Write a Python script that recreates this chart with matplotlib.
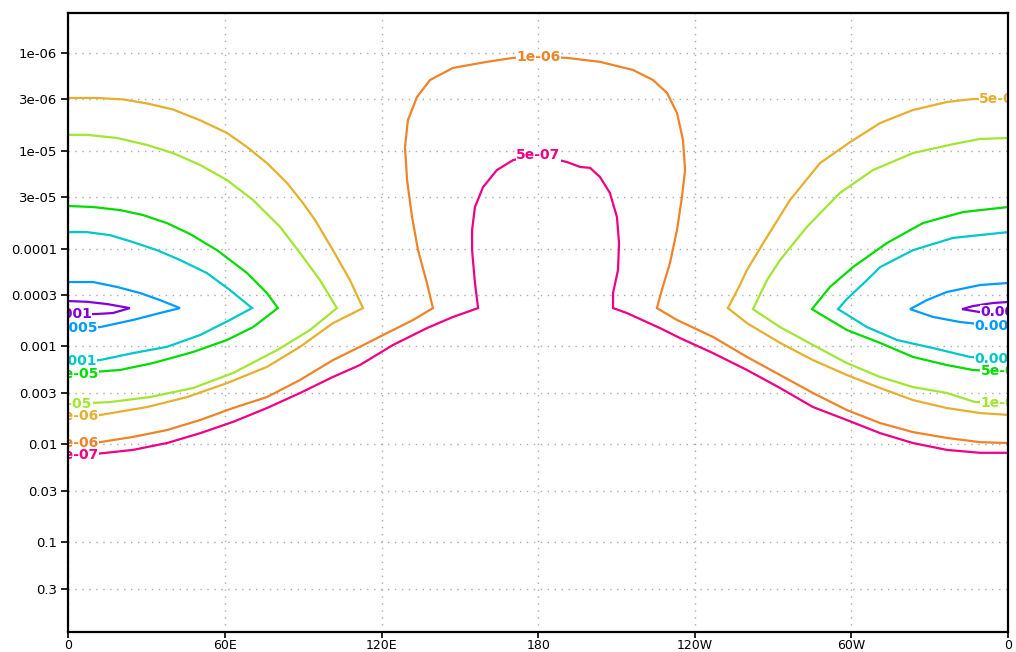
import numpy as np
import matplotlib.pyplot as plt

# contour lines: longitude (deg east) and pressure
lon_p001_l = [0, 7.2, 14.8, 23.6, 17.1, 11.0, 0]
p_p001_l = [3.44e-4, 3.5e-4, 3.69e-4, 4.06e-4, 4.56e-4, 4.66e-4, 4.77e-4]
lon_p001_r = [360, 354.3, 346.6, 342.4, 349.3, 360]
p_p001_r = [3.52e-4, 3.6e-4, 3.87e-4, 4.16e-4, 4.46e-4, 4.56e-4]

lon_p0005_l = [0, 9.5, 18.7, 27.5, 35.1, 42.8, 35.1, 24.8, 12.1, 0]
p_p0005_l = [2.2e-4, 2.2e-4, 2.47e-4, 2.85e-4, 3.36e-4, 4.06e-4, 4.56e-4, 5.37e-4, 6.35e-4, 6.6e-4]
lon_p0005_r = [360, 349.3, 336.6, 329.0, 322.5, 331.3, 341.6, 360]
p_p0005_r = [2.25e-4, 2.36e-4, 2.78e-4, 3.36e-4, 4.16e-4, 5.0e-4, 5.63e-4, 6.35e-4]

lon_p0001_l = [0, 7.2, 16.0, 24.8, 34.0, 42.8, 53.1, 61.9, 70.4,
               61.9, 50.5, 37.8, 24.8, 12.1, 0]
p_p0001_l = [6.8e-5, 6.8e-5, 7.3e-5, 8.6e-5, 1.04e-4, 1.31e-4, 1.78e-4, 2.65e-4, 4.06e-4,
             5.37e-4, 7.65e-4, 1.01e-3, 1.17e-3, 1.38e-3, 1.41e-3]
lon_p0001_r = [360, 338.9, 323.6, 311.0, 306.0, 298.3, 294.9,
               306.0, 317.5, 331.3, 345.4, 360]
p_p0001_r = [6.8e-5, 7.8e-5, 1.04e-4, 1.55e-4, 2.1e-4, 3.28e-4, 4.16e-4,
             6.35e-4, 8.6e-4, 1.04e-3, 1.28e-3, 1.35e-3]

lon_5e5_l = [0, 9.5, 19.8, 28.6, 37.8, 46.6, 57.0, 68.5, 76.1, 80.3,
             70.8, 60.8, 47.8, 32.4, 19.8, 0]
p_5e5_l = [3.68e-5, 3.77e-5, 4.05e-5, 4.55e-5, 5.5e-5, 7.1e-5, 1.04e-4, 1.78e-4, 2.85e-4, 4.06e-4,
           6.35e-4, 8.6e-4, 1.14e-3, 1.48e-3, 1.74e-3, 1.91e-3]
lon_5e5_r = [360, 342.8, 327.4, 313.6, 300.6, 291.8, 284.9,
             298.3, 311.0, 323.6, 336.6, 346.6, 360]
p_5e5_r = [3.77e-5, 4.24e-5, 5.5e-5, 8.8e-5, 1.55e-4, 2.47e-4, 4.16e-4,
           6.8e-4, 9.2e-4, 1.28e-3, 1.55e-3, 1.74e-3, 1.82e-3]

lon_1e5_l = [0, 7.2, 18.7, 30.2, 40.1, 50.5, 60.8, 70.8, 81.1, 88.8, 96.4, 102.9,
             92.6, 80.0, 63.1, 47.8, 31.3, 16.0, 0]
p_1e5_l = [6.9e-6, 6.9e-6, 7.44e-6, 8.76e-6, 1.06e-5, 1.4e-5, 2.0e-5, 3.2e-5, 6.0e-5, 1.11e-4, 2.1e-4, 4.06e-4,
           6.8e-4, 1.09e-3, 1.87e-3, 2.66e-3, 3.29e-3, 3.7e-3, 3.88e-3]
lon_1e5_r = [360, 349.3, 338.9, 323.6, 308.3, 295.6, 283.0, 272.7, 267.7, 262.3,
             272.7, 285.3, 298.3, 311.0, 323.6, 336.6, 347.4, 360]
p_1e5_r = [7.44e-6, 7.6e-6, 8.6e-6, 1.06e-5, 1.58e-5, 2.71e-5, 6.0e-5, 1.31e-4, 2.1e-4, 4.16e-4,
           6.35e-4, 9.67e-4, 1.48e-3, 2.05e-3, 2.6e-3, 2.99e-3, 3.7e-3, 3.78e-3]

lon_5e6_l = [0, 11.0, 21.0, 30.2, 40.1, 50.5, 60.8, 68.5, 76.1, 83.8, 89.9, 94.5, 101.4, 107.9, 112.9,
             101.4, 88.8, 76.1, 60.8, 45.5, 30.2, 12.1, 0]
p_5e6_l = [2.9e-6, 2.9e-6, 3.0e-6, 3.3e-6, 3.8e-6, 4.9e-6, 6.6e-6, 9.2e-6, 1.34e-5, 2.14e-5, 3.43e-5,
           5.1e-5, 1.04e-4, 2.1e-4, 4.06e-4,
           5.78e-4, 1.01e-3, 1.62e-3, 2.37e-3, 3.29e-3, 4.16e-3, 5.02e-3, 5.14e-3]
lon_5e6_r = [360, 346.6, 336.6, 323.6, 311.0, 299.5, 288.0, 276.5, 267.7, 260.0, 257.3, 252.7,
             260.0, 272.7, 285.3, 298.3, 311.0, 323.6, 336.6, 349.3, 360]
p_5e6_r = [2.97e-6, 2.97e-6, 3.19e-6, 3.85e-6, 5.23e-6, 8.2e-6, 1.34e-5, 3.2e-5, 7.6e-5, 1.66e-4, 2.36e-4, 4.06e-4,
           5.78e-4, 9.2e-4, 1.38e-3, 1.96e-3, 2.66e-3, 3.53e-3, 4.26e-3, 4.79e-3, 5.0e-3]

lon_1e6 = [0, 12.1, 24.8, 37.8, 50.5, 63.1, 76.1, 88.8, 101.4, 111.7, 124.4, 132.1, 139.7,
           137.4, 134.0, 131.7, 129.8, 129.0, 130.1, 133.6, 138.6, 147.4, 160.4, 170.4, 180,
           191.1, 203.7, 216.3, 224.0, 229.4, 233.2, 235.5, 236.3, 235.1, 233.2, 230.5, 227.4, 225.5,
           233.2, 247.0, 260.0, 272.7, 285.3, 298.3, 311.0, 323.6, 336.6, 349.3, 360]
p_1e6 = [9.7e-3, 9.5e-3, 8.4e-3, 7.15e-3, 5.65e-3, 4.26e-3, 3.29e-3, 2.2e-3, 1.38e-3, 1.01e-3, 6.8e-4, 5.37e-4, 4.06e-4,
         2.25e-4, 1.04e-4, 4.77e-5, 2.0e-5, 9.2e-6, 4.9e-6, 2.83e-6, 1.9e-6, 1.43e-6, 1.24e-6, 1.13e-6, 1.1e-6,
         1.13e-6, 1.24e-6, 1.5e-6, 1.9e-6, 2.58e-6, 4.13e-6, 7.8e-6, 1.58e-5, 2.98e-5, 6.47e-5, 1.41e-4, 2.65e-4, 4.06e-4,
         5.37e-4, 8.0e-4, 1.28e-3, 1.96e-3, 2.99e-3, 4.47e-3, 6.06e-3, 7.5e-3, 8.6e-3, 9.5e-3, 9.7e-3]

lon_5e7 = [0, 12.1, 24.8, 37.8, 50.5, 63.1, 76.1, 88.8, 101.4, 111.7, 124.4, 137.4, 147.4, 157.0,
           155.8, 154.7, 154.7, 155.8, 158.9, 164.2, 170.4, 180, 191.1, 196.1, 199.9, 203.7, 207.5,
           210.2, 211.0, 210.6, 208.7, 208.7,
           214.0, 226.7, 234.3, 247.0, 260.0, 272.7, 285.3, 298.3, 311.0, 323.6, 336.6, 349.3, 360]
p_5e7 = [1.27e-2, 1.24e-2, 1.14e-2, 9.7e-3, 7.7e-3, 5.9e-3, 4.26e-3, 2.99e-3, 2.05e-3, 1.55e-3, 9.67e-4, 6.5e-4, 5.0e-4, 4.06e-4,
         2.25e-4, 1.04e-4, 6.47e-5, 3.77e-5, 2.36e-5, 1.58e-5, 1.25e-5, 1.11e-5, 1.31e-5, 1.47e-5, 1.5e-5, 1.86e-5, 2.71e-5,
         4.77e-5, 8.8e-5, 1.66e-4, 2.85e-4, 4.06e-4,
         4.56e-4, 6.5e-4, 8.2e-4, 1.17e-3, 1.74e-3, 2.66e-3, 4.16e-3, 5.65e-3, 7.68e-3, 9.7e-3, 1.14e-2, 1.22e-2, 1.22e-2]

purple = (130/255, 0, 220/255)
blue = (0, 155/255, 1)
cyan = (0, 200/255, 200/255)
green = (0, 220/255, 0)
lgreen = (160/255, 230/255, 50/255)
yorange = (230/255, 175/255, 45/255)
orange = (240/255, 130/255, 40/255)
magenta = (240/255, 0, 130/255)

lines = [
    (lon_p001_l, p_p001_l, purple), (lon_p001_r, p_p001_r, purple),
    (lon_p0005_l, p_p0005_l, blue), (lon_p0005_r, p_p0005_r, blue),
    (lon_p0001_l, p_p0001_l, cyan), (lon_p0001_r, p_p0001_r, cyan),
    (lon_5e5_l, p_5e5_l, green), (lon_5e5_r, p_5e5_r, green),
    (lon_1e5_l, p_1e5_l, lgreen), (lon_1e5_r, p_1e5_r, lgreen),
    (lon_5e6_l, p_5e6_l, yorange), (lon_5e6_r, p_5e6_r, yorange),
    (lon_1e6, p_1e6, orange),
    (lon_5e7, p_5e7, magenta),
]

# contour labels: text, lon, pressure, colour
labels = [
    ("0.001", 0.7, 4.7e-4, purple), ("0.0005", 1.0, 6.5e-4, blue),
    ("0.0001", 0.7, 1.4e-3, cyan), ("5e-05", 3.3, 1.9e-3, green),
    ("1e-05", 0.7, 3.85e-3, lgreen), ("5e-06", 3.3, 5.1e-3, yorange),
    ("1e-06", 3.3, 9.6e-3, orange), ("5e-07", 3.3, 1.27e-2, magenta),
    ("0.001", 357.7, 4.5e-4, purple), ("0.0005", 357.3, 6.2e-4, blue),
    ("0.0001", 357.3, 1.35e-3, cyan), ("5e-05", 358.0, 1.8e-3, green),
    ("1e-05", 358.0, 3.75e-3, lgreen), ("5e-06", 357.5, 2.97e-6, yorange),
    ("1e-06", 180, 1.1e-6, orange), ("5e-07", 180, 1.11e-5, magenta),
]

xticks = [0, 60, 120, 180, 240, 300, 360]
xticklabels = ['0', '60E', '120E', '180', '120W', '60W', '0']
yticks = [1e-6, 3e-6, 1e-5, 3e-5, 1e-4, 3e-4, 1e-3, 3e-3, 1e-2, 3e-2, 1e-1, 3e-1]
yticklabels = ['1e-06', '3e-06', '1e-05', '3e-05', '0.0001', '0.0003', '0.001',
               '0.003', '0.01', '0.03', '0.1', '0.3']

fig = plt.figure(figsize=(10.16, 6.52), dpi=100)
ax = fig.add_axes([0.0672, 0.0311, 0.9249, 0.9485])

for lo, pr, c in lines:
    ax.plot(lo, pr, color=c, lw=1.6, solid_joinstyle='miter', zorder=2)

for txt, lo, pr, c in labels:
    ax.text(lo, pr, txt, color=c, fontsize=10, fontweight='bold',
            ha='center', va='center', clip_on=True, zorder=3,
            bbox=dict(facecolor='white', edgecolor='none', pad=0.3))

ax.set_yscale('log')
ax.set_xlim(0, 360)
ax.set_ylim(0.82, 3.96e-7)
ax.set_xticks(xticks)
ax.set_xticklabels(xticklabels)
ax.set_yticks(yticks)
ax.set_yticklabels(yticklabels)
ax.minorticks_off()
ax.tick_params(axis='y', labelsize=9.5, length=5, width=1.2, direction='out', pad=3)
ax.tick_params(axis='x', labelsize=9, length=4, width=1.2, direction='out', pad=1)
ax.grid(True, color='#aaaaaa', linestyle=(0, (1, 4)), linewidth=1)
for s in ax.spines.values():
    s.set_linewidth(1.6)
    s.set_zorder(5)

fig.savefig('out.png', dpi=100)
